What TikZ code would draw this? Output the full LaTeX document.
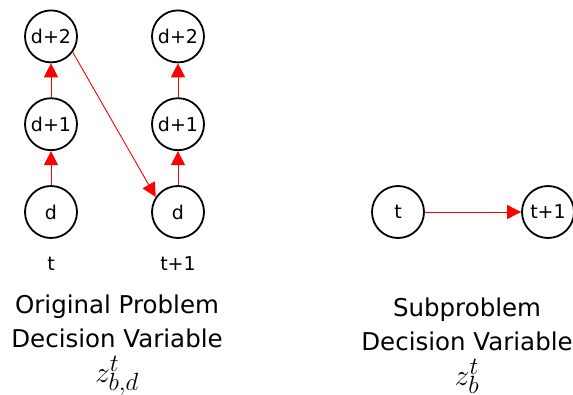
\documentclass[tikz,border=0pt]{standalone}
\usepackage{fontspec}
\setmainfont{DejaVu Sans}
\usetikzlibrary{arrows.meta,positioning}

\begin{document}
\begin{tikzpicture}[x=1pt, y=-1pt,
    state/.style={circle, draw=black, line width=1.8pt, minimum size=52pt, inner sep=0pt, font=\fontsize{19}{21}\selectfont},
    tlabel/.style={font=\fontsize{19}{21}\selectfont, inner sep=0pt},
    caption/.style={font=\fontsize{24.5}{28}\selectfont, inner sep=0pt, text height=18pt, text depth=6pt},
    mathcap/.style={font=\fontsize{24.88}{28}\selectfont, inner sep=0pt, scale=1.2},
    arrow/.style={-{Triangle[length=14pt,width=14pt]}, red, line width=0.9pt},
    node distance=34pt,
]
    \useasboundingbox (0,0) rectangle (573,394);

    % original problem: two time periods
    \node[state] (l0) at (51,212) {d};
    \node[state, above=of l0] (l1) {d+1};
    \node[state, above=of l1] (l2) {d+2};
    \node[state] (r0) at (178,212) {d};
    \node[state, above=of r0] (r1) {d+1};
    \node[state, above=of r1] (r2) {d+2};
    \node[tlabel, below=18pt of l0] (lt) {t};
    \node[tlabel, below=18pt of r0] (rt) {t+1};

    \draw[arrow] (l0) -- (l1);
    \draw[arrow] (l1) -- (l2);
    \draw[arrow] (r0) -- (r1);
    \draw[arrow] (r1) -- (r2);
    \draw[arrow] (l2.-36) -- (r0.146);

    % subproblem
    \node[state] (st) at (398,212) {t};
    \node[state] (sn) at (548,212) {t+1};
    \draw[arrow] (st) -- (sn);

    % captions
    \node[caption] (orig1) at (117,307) {Original Problem};
    \node[caption, below=10pt of orig1] (orig2) {Decision Variable};
    \node[mathcap, below=35pt of orig2.base, anchor=base] (orig3) {$z_{b,d}^{t}$};
    \node[caption] (sub1) at (467,310) {Subproblem};
    \node[caption, below=10pt of sub1] (sub2) {Decision Variable};
    \node[mathcap, below=35pt of sub2.base, anchor=base] (sub3) {$z_{b}^{t}$};
\end{tikzpicture}
\end{document}
